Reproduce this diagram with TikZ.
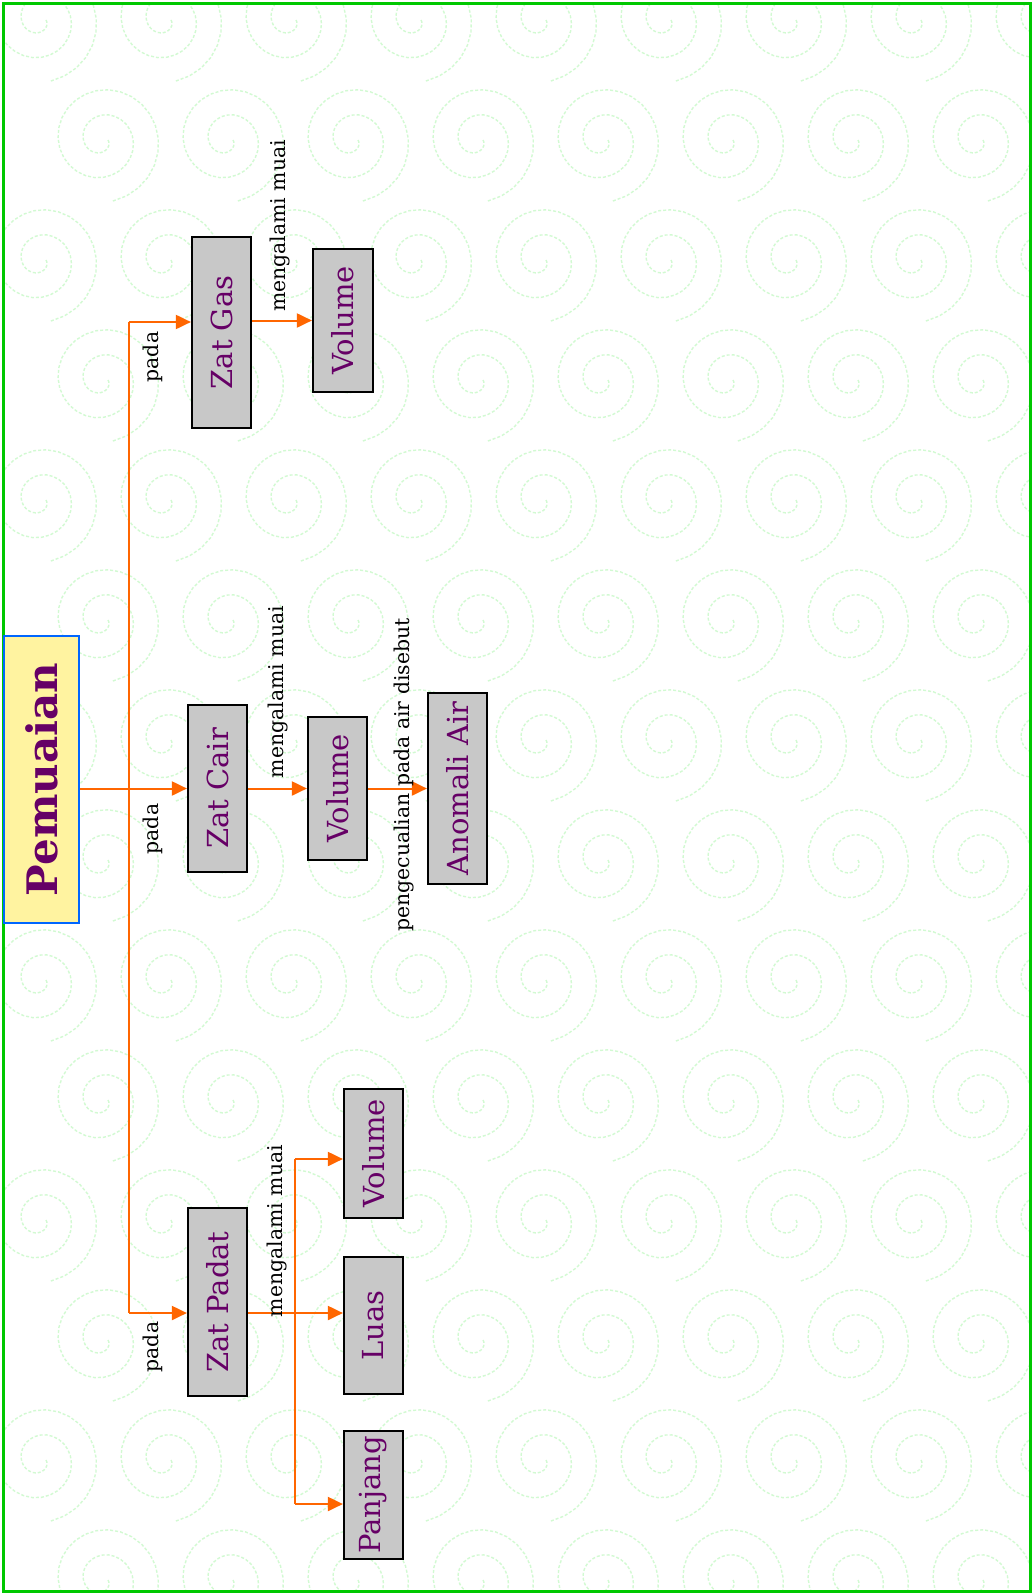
\documentclass[tikz,border=0pt]{standalone}
\usepackage{fontspec}
\setmainfont{DejaVu Serif}
\usetikzlibrary{arrows.meta,calc}
\definecolor{frame}{RGB}{0,200,0}
\definecolor{swirl}{RGB}{210,250,210}
\definecolor{pemfill}{RGB}{255,243,160}
\definecolor{pemline}{RGB}{0,102,255}
\definecolor{purp}{RGB}{102,0,102}
\definecolor{boxfill}{RGB}{200,200,200}
\definecolor{orng}{RGB}{255,102,0}
\tikzset{
  concept/.style={draw=black,line width=1.1pt,fill=boxfill,text=purp,rotate=90,inner sep=0pt,
    font=\fontsize{14.5}{17}\selectfont},
  lbl/.style={rotate=90,inner sep=0pt,font=\fontsize{10.2}{12}\selectfont,text=black},
  conn/.style={draw=orng,line width=1pt},
  arr/.style={conn,-{Triangle[length=7.5pt,width=7pt]}},
  swirlline/.style={draw=swirl,line width=0.7pt,dash pattern=on 1.5pt off 1pt}
}
\begin{document}
\begin{tikzpicture}[x=0.5pt,y=-0.5pt]
\useasboundingbox (0,0) rectangle (1033,1595);
\fill[white] (0,0) rectangle (1033,1595);
\begin{scope}
\clip (3,4) rectangle (1030,1591);
\foreach \i in {0,...,8}{
  \foreach \j in {0,...,13}{
    \pgfmathsetmacro{\ax}{40+\i*125+mod(\j,2)*62}
    \pgfmathsetmacro{\ay}{20+\j*120}
    \draw[swirlline,shift={(\ax,\ay)}] plot[domain=0:800,samples=60,variable=\t]
      ({\t}:{6+0.07*\t});
  }
}
\end{scope}
\draw[frame,line width=1.5pt] (3,4) rectangle (1030,1591);

% main node
\node[draw=pemline,line width=1pt,fill=pemfill,text=purp,rotate=90,inner sep=0pt,
  minimum width=143.5pt,minimum height=37.5pt,font=\bfseries\fontsize{21}{24}\selectfont]
  (pem) at (41.5,779.5) {Pemuaian};

% level 1
\node[concept,minimum width=95.5pt,minimum height=29.5pt] (zg) at (221.5,332.5) {Zat Gas};
\node[concept,minimum width=83.5pt,minimum height=29.5pt] (zc) at (217.5,788.5) {Zat Cair};
\node[concept,minimum width=94pt,minimum height=29.5pt] (zp) at (217.5,1302) {Zat Padat};

% level 2
\node[concept,minimum width=71.5pt,minimum height=30pt] (vg) at (343,320.5) {Volume};
\node[concept,minimum width=71.5pt,minimum height=29.5pt] (vc) at (337.5,788.5) {Volume};
\node[concept,minimum width=95.5pt,minimum height=29.5pt] (an) at (457.5,788.5) {Anomali Air};
\node[concept,minimum width=64.5pt,minimum height=29.5pt] (vp) at (373.5,1153.5) {Volume};
\node[concept,minimum width=68.5pt,minimum height=29.5pt] (lu) at (373.5,1325.5) {Luas};
\node[concept,minimum width=64pt,minimum height=29.5pt] (pj) at (373.5,1495) {Panjang};

% connectors
\coordinate (ttop) at (129,322);
\coordinate (tbot) at (129,1313);
\coordinate (btop) at (295,1159);
\coordinate (bbot) at (295,1504);
\draw[conn] (ttop) -- (tbot);
\draw[arr] (pem.south |- zc.center) -- (zc.north);
\draw[arr] (ttop) -- (ttop -| zg.north);
\draw[arr] (tbot) -- (tbot -| zp.north);
\draw[arr] (zg.south |- vg.center) -- (vg.north);
\draw[arr] (zc.south) -- (vc.north);
\draw[arr] (vc.south) -- (an.north);
\draw[arr] (zp.south |- tbot) -- (tbot -| lu.north);
\draw[conn] (btop) -- (bbot);
\draw[arr] (btop) -- (btop -| vp.north);
\draw[arr] (bbot) -- (bbot -| pj.north);

% labels
\node[lbl] (l1) at (153,357) {pada};
\node[lbl] (l2) at (153,829) {pada};
\node[lbl] (l3) at (153,1347) {pada};
\node[lbl] (l4) at (280,226) {mengalami muai};
\node[lbl] (l5) at (278,692) {mengalami muai};
\node[lbl] (l6) at (277,1231) {mengalami muai};
\node[lbl] (l7) at (404,775) {pengecualian pada air disebut};
\end{tikzpicture}
\end{document}
